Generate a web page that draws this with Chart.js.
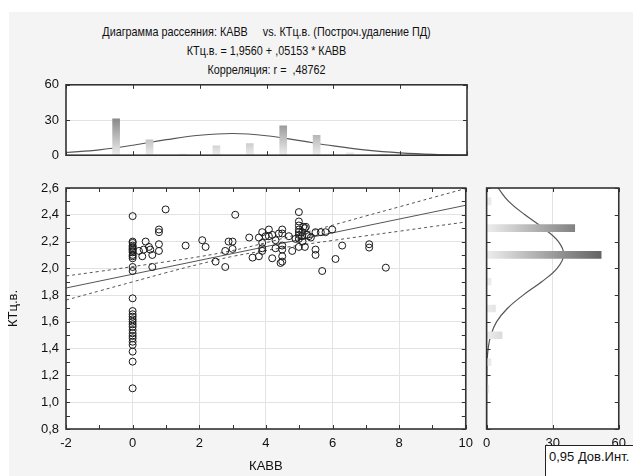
<!DOCTYPE html>
<html>
<head>
<meta charset="utf-8">
<script src="https://cdn.jsdelivr.net/npm/chart.js@4.4.1/dist/chart.umd.min.js"></script>
<style>
html, body { margin: 0; padding: 0; background: #fff; }
#page { position: relative; width: 633px; height: 476px; overflow: hidden; background: #fff;
  font-family: "Liberation Sans", Arial, sans-serif; color: #111; }
#bg { position: absolute; left: 9px; top: 12px; right: 0; bottom: 0; background: #f4f4f4; }
.title { position: absolute; left: 0; width: 533px; text-align: center; font-size: 13px; line-height: 15px;
  white-space: pre; transform: scaleX(0.83); transform-origin: 50% 50%; }
.panel { position: absolute; }
#legendBox { position: absolute; left: 545px; top: 445px; width: 100px; height: 40px; background: #fff;
  border: 1px solid #222; box-sizing: border-box; font-size: 13px; line-height: 15px; padding: 3px 0 0 3px; }
</style>
</head>
<body>
<div id="page">
  <div id="bg"></div>
  <div class="title" style="top:24px">Диаграмма рассеяния: КАВВ     vs. КТц.в. (Построч.удаление ПД)</div>
  <div class="title" style="top:43px">КТц.в. = 1,9560 + ,05153 * КАВВ</div>
  <div class="title" style="top:62px">Корреляция: r =  ,48762</div>
  <div class="panel" style="left:0;top:70px"><canvas id="topHist" width="480" height="100"></canvas></div>
  <div class="panel" style="left:0;top:170px"><canvas id="scatter" width="480" height="306"></canvas></div>
  <div class="panel" style="left:476px;top:170px"><canvas id="rightHist" width="157" height="306"></canvas></div>
  <div id="legendBox">0,95 Дов.Инт.</div>
</div>
<script>
// КАВВ / КТц.в. pairs
const kavb = [
  0, 0, 0, 0, 0, 0, 0, 0, 0, 0, 0, 0, 0, 0, 0, 0, 0, 0, 0, 0, 0, 0, 0, 0, 0, 0, 0, 0, 0, 0, 0,
  0.19, 0.29, 0.33, 0.39, 0.49, 0.53, 0.59, 0.59, 0.79, 0.79, 0.79, 0.79, 0.99,
  1.59,
  2.09, 2.19, 2.49, 2.78, 2.78, 2.88, 3.0, 3.0,
  3.08, 3.5, 3.6, 3.79, 3.79, 3.89, 3.89, 3.89, 3.89, 3.99,
  4.09, 4.09, 4.19, 4.19, 4.29, 4.29, 4.39, 4.44, 4.49, 4.49, 4.49, 4.49, 4.49, 4.49,
  4.69, 4.79, 4.89, 4.99, 4.99, 4.99, 4.99, 4.99, 4.99, 4.99, 4.99,
  5.09, 5.09, 5.1, 5.12, 5.17, 5.17, 5.2, 5.23, 5.29, 5.35, 5.49, 5.49, 5.49, 5.65, 5.69, 5.79, 5.99,
  6.09, 6.29, 7.1, 7.1, 7.6
];
const ktc = [
  2.39, 2.20, 2.19, 2.17, 2.16, 2.15, 2.14, 2.13, 2.12, 2.10, 2.09, 2.075, 2.01, 1.98,
  1.776, 1.681, 1.657, 1.639, 1.619, 1.601, 1.582, 1.564, 1.539, 1.515, 1.495, 1.477, 1.452, 1.428, 1.378, 1.303, 1.104,
  2.13, 2.09, 2.14, 2.20, 2.16, 2.14, 2.10, 2.01, 2.29, 2.27, 2.18, 2.13, 2.44,
  2.17,
  2.21, 2.16, 2.05, 2.01, 2.13, 2.20, 2.20, 2.145,
  2.40, 2.23, 2.08, 2.09, 2.23, 2.27, 2.19, 2.15, 2.13, 2.24,
  2.29, 2.24, 2.25, 2.075, 2.21, 2.15, 2.26, 2.04, 2.29, 2.26, 2.17, 2.14, 2.09, 2.05,
  2.24, 2.13, 2.22, 2.42, 2.35, 2.32, 2.29, 2.27, 2.25, 2.22, 2.16,
  2.27, 2.24, 2.20, 2.31, 2.30, 2.16, 2.31, 2.25, 2.24, 2.23, 2.27, 2.14, 2.10, 2.27, 1.98, 2.27, 2.29,
  2.07, 2.17, 2.18, 2.155, 2.005
];

// regression line and 0.95 confidence band
const regX = [-2, 10];
const regY = [1.853, 2.471];
const bandX = [-2, -1, 0, 1, 2, 3, 4, 5, 6, 7, 8, 9, 10];
const bandUpper = [1.943, 1.977, 2.013, 2.049, 2.087, 2.133, 2.191, 2.256, 2.322, 2.391, 2.459, 2.528, 2.596];
const bandLower = [1.763, 1.831, 1.899, 1.967, 2.031, 2.089, 2.133, 2.172, 2.208, 2.243, 2.277, 2.312, 2.346];

// top histogram (КАВВ)
const topBins = [-0.5, 0.5, 1.5, 2.5, 3.5, 4.5, 5.5, 6.5, 7.5];
const topCounts = [31, 13, 1, 8, 10, 25, 17, 2, 1];
const topCurveX = [-2, -1, 0, 1, 2, 3, 4, 5, 6, 7, 8, 9, 10];
const topCurveY = [2.3, 4.6, 8.5, 13.2, 17.0, 18.5, 16.6, 12.4, 7.9, 4.3, 2.0, 0.7, 0.2];

// right histogram (КТц.в.)
const rightBins = [1.1, 1.3, 1.5, 1.7, 1.9, 2.1, 2.3, 2.5];
const rightCounts = [1, 2, 7, 4, 2, 52, 40, 2];
const rightCurveY = [0.8, 0.9, 1.0, 1.1, 1.2, 1.3, 1.4, 1.5, 1.6, 1.7, 1.8, 1.9, 2.0, 2.1, 2.2, 2.3, 2.4, 2.5, 2.6];
const rightCurveX = [0, 0, 0, 0, 0.05, 0.2, 0.7, 1.9, 4.5, 9.4, 16.6, 25.0, 32.0, 35.0, 32.6, 25.8, 17.4, 10.0, 5.2];

const FONT = '"Liberation Sans", Arial, sans-serif';
Chart.defaults.font.family = FONT;
Chart.defaults.font.size = 13;
Chart.defaults.color = "#111";
Chart.defaults.animation = false;

const GRID = "#e3e3e3";
const LINE = "#555";

// white plot area, frame and inward tick marks
const framePlugin = {
    id: "frame",
    beforeDraw(chart) {
        const a = chart.chartArea;
        const ctx = chart.ctx;
        ctx.save();
        ctx.fillStyle = "#fff";
        ctx.fillRect(a.left, a.top, a.right - a.left, a.bottom - a.top);
        ctx.restore();
    },
    afterDraw(chart, args, opts) {
        const a = chart.chartArea;
        const ctx = chart.ctx;
        const len = opts.len || 4;
        ctx.save();
        ctx.strokeStyle = "#333";
        ctx.lineWidth = 1;
        ctx.beginPath();
        const sx = chart.scales.x;
        const sy = chart.scales.y;
        if (opts.xStep) {
            const n = Math.round((sx.max - sx.min) / opts.xStep);
            for (let i = 0; i <= n; i += 1) {
                const px = Math.round(sx.getPixelForValue(sx.min + i * opts.xStep)) + 0.5;
                ctx.moveTo(px, a.top); ctx.lineTo(px, a.top + len);
                ctx.moveTo(px, a.bottom); ctx.lineTo(px, a.bottom - len);
            }
        }
        if (opts.yStep) {
            const n = Math.round((sy.max - sy.min) / opts.yStep);
            for (let i = 0; i <= n; i += 1) {
                const py = Math.round(sy.getPixelForValue(sy.min + i * opts.yStep)) + 0.5;
                ctx.moveTo(a.left, py); ctx.lineTo(a.left + len, py);
                ctx.moveTo(a.right, py); ctx.lineTo(a.right - len, py);
            }
        }
        ctx.stroke();
        ctx.lineWidth = 1.6;
        ctx.strokeRect(a.left, a.top, a.right - a.left, a.bottom - a.top);
        ctx.restore();
    },
};

function pairs(xs, ys) {
    return xs.map((x, i) => ({ x, y: ys[i] }));
}

function comma(v) {
    return Number(v).toFixed(1).replace(".", ",");
}

// main scatter
new Chart(document.getElementById("scatter"), {
    type: "scatter",
    data: {
        datasets: [
            {
                data: pairs(kavb, ktc),
                pointStyle: "circle",
                pointRadius: 3.5,
                pointBorderWidth: 1,
                pointBorderColor: "#1a1a1a",
                pointBackgroundColor: "rgba(0,0,0,0)",
            },
            {
                data: pairs(regX, regY),
                showLine: true,
                borderColor: LINE,
                borderWidth: 1,
                pointRadius: 0,
            },
            {
                data: pairs(bandX, bandUpper),
                showLine: true,
                borderColor: LINE,
                borderWidth: 1,
                borderDash: [3, 3],
                tension: 0.4,
                pointRadius: 0,
            },
            {
                data: pairs(bandX, bandLower),
                showLine: true,
                borderColor: LINE,
                borderWidth: 1,
                borderDash: [3, 3],
                tension: 0.4,
                pointRadius: 0,
            },
        ],
    },
    plugins: [framePlugin],
    options: {
        responsive: false,
        layout: { padding: { top: 18, right: 13, bottom: 0, left: 0 } },
        plugins: {
            legend: { display: false },
            tooltip: { enabled: false },
            frame: { xStep: 1, yStep: 0.1, len: 4 },
        },
        scales: {
            x: {
                type: "linear",
                min: -2,
                max: 10,
                ticks: { stepSize: 2, padding: 7, maxRotation: 0, color: "#111" },
                grid: { color: GRID, drawTicks: false },
                border: { display: false },
                title: { display: true, text: "КАВВ", padding: { top: 0, bottom: 2 }, color: "#111" },
                afterFit(scale) { scale.height = 47; },
            },
            y: {
                type: "linear",
                min: 0.8,
                max: 2.6,
                ticks: { stepSize: 0.2, padding: 7, color: "#111", callback: (v) => comma(v) },
                grid: { color: GRID, drawTicks: false },
                border: { display: false },
                title: { display: true, text: "КТц.в.", padding: { top: 6, bottom: 0 }, color: "#111" },
                afterFit(scale) { scale.width = 66; },
            },
        },
    },
});

// top histogram
new Chart(document.getElementById("topHist"), {
    type: "bar",
    data: {
        datasets: [
            {
                data: pairs(topBins, topCounts),
                barThickness: 7,
                backgroundColor(c) {
                    const a = c.chart.chartArea;
                    if (!a) return "#aaa";
                    const g = c.chart.ctx.createLinearGradient(0, a.bottom, 0, a.top);
                    g.addColorStop(0, "#eeeeee");
                    g.addColorStop(0.5, "#8c8c8c");
                    g.addColorStop(1, "#555555");
                    return g;
                },
            },
            {
                type: "line",
                data: pairs(topCurveX, topCurveY),
                borderColor: LINE,
                borderWidth: 1.2,
                tension: 0.4,
                pointRadius: 0,
            },
        ],
    },
    plugins: [framePlugin],
    options: {
        responsive: false,
        layout: { padding: { top: 14, right: 13, bottom: 6, left: 0 } },
        plugins: {
            legend: { display: false },
            tooltip: { enabled: false },
            frame: { xStep: 2, yStep: 30, len: 4 },
        },
        scales: {
            x: { type: "linear", min: -2, max: 10, display: false, offset: false, grid: { offset: false } },
            y: {
                type: "linear",
                min: 0,
                max: 60,
                ticks: { stepSize: 30, padding: 7, color: "#111" },
                grid: { color: (c) => (c.tick.value === 30 ? GRID : "rgba(0,0,0,0)"), drawTicks: false },
                border: { display: false },
                afterFit(scale) { scale.width = 66; },
            },
        },
    },
});

// right histogram
new Chart(document.getElementById("rightHist"), {
    type: "bar",
    data: {
        datasets: [
            {
                indexAxis: "y",
                data: pairs(rightCounts, rightBins),
                barThickness: 7,
                backgroundColor(c) {
                    const a = c.chart.chartArea;
                    if (!a) return "#aaa";
                    const g = c.chart.ctx.createLinearGradient(a.left, 0, a.right, 0);
                    g.addColorStop(0, "#eeeeee");
                    g.addColorStop(0.6, "#8c8c8c");
                    g.addColorStop(1, "#505050");
                    return g;
                },
            },
            {
                type: "line",
                indexAxis: "y",
                data: pairs(rightCurveX, rightCurveY),
                borderColor: LINE,
                borderWidth: 1.2,
                tension: 0.4,
                pointRadius: 0,
            },
        ],
    },
    plugins: [framePlugin],
    options: {
        responsive: false,
        indexAxis: "y",
        layout: { padding: { top: 18, right: 14, bottom: 0, left: 10 } },
        plugins: {
            legend: { display: false },
            tooltip: { enabled: false },
            frame: { xStep: 30, yStep: 0.2, len: 4 },
        },
        scales: {
            x: {
                type: "linear",
                position: "bottom",
                min: 0,
                max: 60,
                ticks: { stepSize: 30, padding: 7, color: "#111" },
                grid: { color: (c) => (c.tick.value === 30 ? GRID : "rgba(0,0,0,0)"), drawTicks: false },
                border: { display: false },
                afterFit(scale) { scale.height = 47; },
            },
            y: { type: "linear", min: 0.8, max: 2.6, display: false, offset: false, grid: { offset: false } },
        },
    },
});
</script>
</body>
</html>
